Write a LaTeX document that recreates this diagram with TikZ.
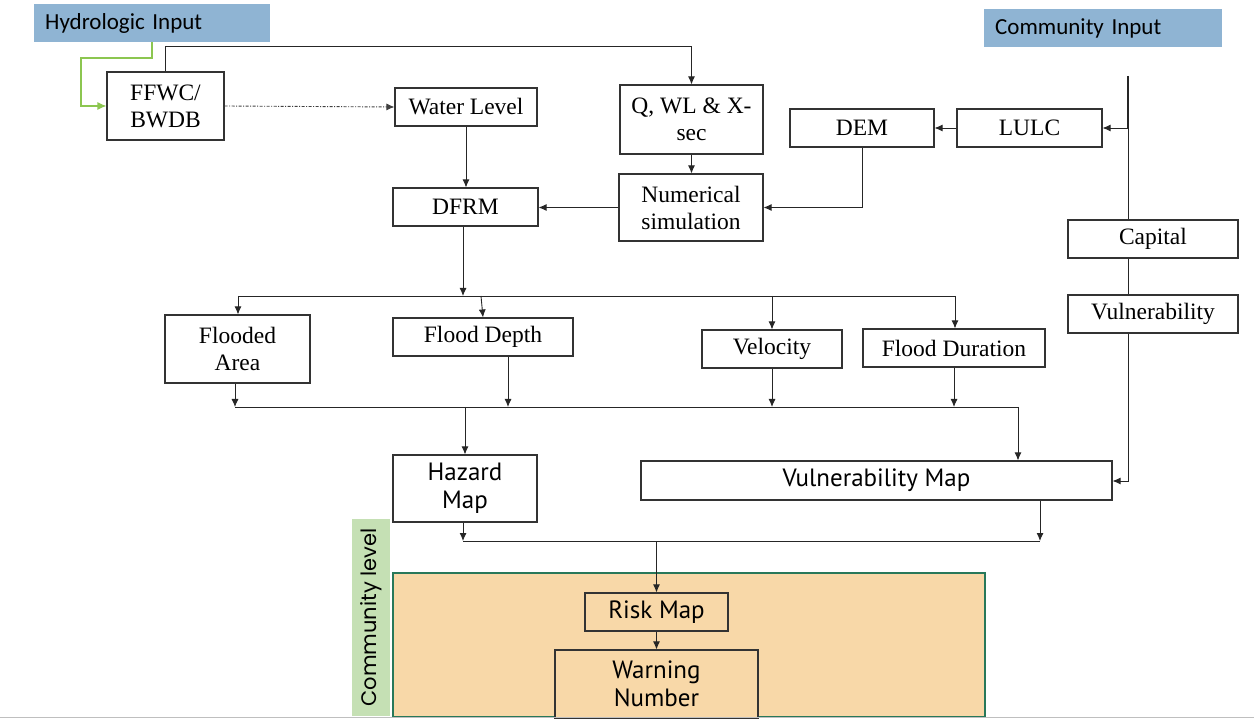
\documentclass[tikz,border=0pt]{standalone}
\usepackage{fontspec}
\setmainfont{Liberation Serif}
\newfontfamily\calibrifont{Carlito}
\newfontfamily\cmcfont{PT Sans}
\newfontfamily\gothfont{Poppins}
\usetikzlibrary{arrows.meta,calc}
\definecolor{hdrblue}{RGB}{143,180,211}
\definecolor{lgreen}{RGB}{197,224,180}
\definecolor{gline}{RGB}{140,198,80}
\definecolor{orfill}{RGB}{248,216,168}
\definecolor{orborder}{RGB}{40,120,90}
\tikzset{
  bx/.style={draw=black!80, fill=white, line width=1.1pt, inner sep=0pt, align=center,
    font=\fontsize{23.5}{27}\selectfont},
  cbx/.style={bx, font=\cmcfont\fontsize{25}{28}\selectfont},
  hdr/.style={fill=hdrblue, inner xsep=11pt, inner ysep=0pt, minimum height=38pt, align=left,
    font=\calibrifont\fontsize{23}{26}\selectfont, anchor=west},
  arr/.style={-{Latex[length=8pt,width=7pt]}, line width=0.9pt, draw=black!85},
  garr/.style={-{Latex[length=9pt,width=8pt]}, line width=1.1pt, draw=gline},
  ln/.style={line width=0.9pt, draw=black!85}
}
\begin{document}
\begin{tikzpicture}[x=1pt,y=-1pt]
\useasboundingbox (0,0) rectangle (1254,719);
% headers
\node[hdr, text width=214pt] (hyd) at (34,23) {Hydrologic Input};
\node[hdr, text width=216pt] (com) at (984,28) {Community Input};
% boxes
\node[bx, minimum width=117pt, minimum height=68pt] (ffwc) at (165.5,106) {FFWC/\\BWDB};
\node[bx, minimum width=142pt, minimum height=38pt] (wl) at (466,107) {Water Level};
\node[bx, minimum width=143pt, minimum height=69pt] (q) at (691.5,119.5) {Q, WL \& X-\\sec};
\node[bx, minimum width=144pt, minimum height=38pt] (dem) at (862,128) {DEM};
\node[bx, minimum width=145pt, minimum height=38pt] (lulc) at (1029.5,128) {LULC};
\node[bx, minimum width=145pt, minimum height=38pt] (dfrm) at (465.5,207) {DFRM};
\node[bx, minimum width=144pt, minimum height=67pt] (num) at (691,207.5) {Numerical\\simulation};
\node[bx, minimum width=170pt, minimum height=38pt] (cap) at (1153,239) {Capital};
\node[bx, minimum width=170pt, minimum height=38pt] (vul) at (1153,314) {Vulnerability};
\node[bx, minimum width=145pt, minimum height=68pt] (fa) at (237.5,349) {Flooded\\Area};
\node[bx, minimum width=180pt, minimum height=38pt] (fd) at (483,337) {Flood Depth};
\node[bx, minimum width=140pt, minimum height=38pt] (vel) at (772,349) {Velocity};
\node[bx, minimum width=182pt, minimum height=38pt] (fdur) at (954,348) {Flood Duration};
\node[cbx, minimum width=144pt, minimum height=67pt] (haz) at (465,488.5) {Hazard\\Map};
\node[cbx, minimum width=471pt, minimum height=39pt] (vmap) at (876.5,480.5) {Vulnerability Map};
% community level region
\node[fill=lgreen, minimum width=197pt, minimum height=38pt, inner sep=0pt, rotate=90,
  font=\gothfont\fontsize{21}{24}\selectfont] (clvl) at (371,617.5) {Community level};
\node[fill=orfill, draw=orborder, line width=1.1pt, minimum width=592pt, minimum height=144pt, inner sep=0pt] (orange) at (689,645) {};
\node[cbx, fill=orfill, minimum width=143pt, minimum height=38pt] (risk) at (656.5,612) {Risk Map};
\node[cbx, fill=orfill, minimum width=203pt, minimum height=68pt] (warn) at (656.5,684) {Warning\\Number};
% bottom grey rule
\coordinate (gl) at (0,717.5); \coordinate (gr) at (1254,717.5);
\draw[line width=1.5pt, draw=black!25] (gl) -- (gr);
% green input arrow
\coordinate (g1) at (152,58); \coordinate (g2) at (81,58);
\draw[garr] (hyd.south -| g1) -- (g1) -- (g2) -- (g2 |- ffwc.west) -- (ffwc.west);
% top connector
\coordinate (t1) at (165,46);
\draw[arr] (ffwc.north) -- (ffwc.north |- t1) -- (q.north |- t1) -- (q.north);
\draw[arr, draw=black!75, line width=0.9pt, dash pattern=on 3pt off 1.5pt on 1pt off 1.5pt] (ffwc.east) -- (wl.west);
\draw[arr] (wl.south) -- (wl.south |- dfrm.north);
\draw[arr] (q.south) -- (q.south |- num.north);
\draw[arr] (num.west) -- (num.west -| dfrm.east);
\draw[arr] (dem.south) -- (dem.south |- num.east) -- (num.east);
\draw[arr] (lulc.west) -- (dem.east);
% community line
\coordinate (c1) at (1128,76); \coordinate (c3) at (1128,128); \coordinate (c2) at (1128,481);
\draw[line width=2pt, draw=black!85] (c1) -- (c3);
\draw[arr] (c3) -- (lulc.east);
\draw[ln] (c3) -- (c3 |- cap.north);
\draw[ln] (c3 |- cap.south) -- (c3 |- vul.north);
\draw[arr] (c3 |- vul.south) -- (c2) -- (c2 -| vmap.east);
% first bus
\coordinate (b1l) at (238,296); \coordinate (b1m) at (481,296); \coordinate (b1r) at (955,296);
\draw[ln] (b1l) -- (b1r);
\draw[arr] ([xshift=-2.5pt]dfrm.south) -- ([xshift=-2.5pt]dfrm.south |- b1l);
\draw[arr] (b1l) -- (b1l |- fa.north);
\draw[arr] (b1m) -- (fd.north);
\draw[arr] (vel.north |- b1l) -- (vel.north);
\draw[arr] (b1r) -- (b1r |- fdur.north);
% second bus
\coordinate (b2l) at (235,407); \coordinate (b2r) at (1018,407);
\draw[ln] (b2l) -- (b2r);
\draw[arr] (b2l |- fa.south) -- (b2l);
\draw[arr] ([xshift=25pt]fd.south) -- ([xshift=25pt]fd.south |- b2l);
\draw[arr] (vel.south) -- (vel.south |- b2l);
\draw[arr] (fdur.south) -- (fdur.south |- b2l);
\draw[arr] (haz.north |- b2l) -- (haz.north);
\draw[arr] (b2r) -- (b2r |- vmap.north);
% third bus
\coordinate (b3l) at (463,541); \coordinate (b3r) at (1040,541);
\draw[ln] (b3l) -- (b3r);
\draw[arr] (b3l |- haz.south) -- (b3l);
\draw[arr] (b3r |- vmap.south) -- (b3r);
\draw[arr] (risk.north |- b3l) -- (risk.north);
\draw[arr] (risk.south) -- (warn.north);
\end{tikzpicture}
\end{document}
